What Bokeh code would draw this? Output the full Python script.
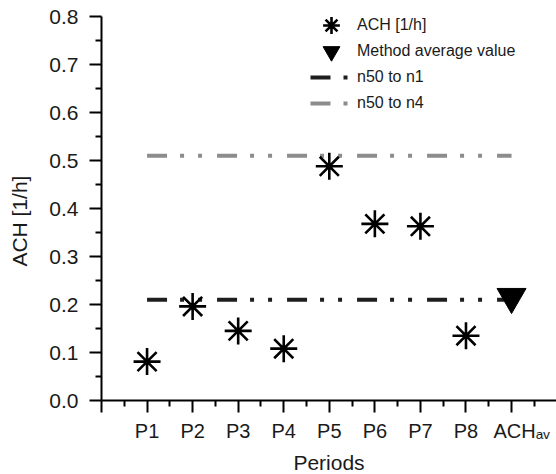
import numpy as np
from bokeh.plotting import figure
from bokeh.models import FixedTicker, Legend, LegendItem, Range1d
from bokeh.embed import file_html
from bokeh.resources import INLINE

# ---- data ----
periods = ["P1", "P2", "P3", "P4", "P5", "P6", "P7", "P8"]
ach_values = [0.081, 0.196, 0.145, 0.108, 0.488, 0.368, 0.363, 0.135]
avg_label = "ACH\u2090\u1d65"          # ACH with subscript "av"
avg_value = 0.216
n50_to_n1 = 0.21
n50_to_n4 = 0.51
y_ticks = [0.0, 0.1, 0.2, 0.3, 0.4, 0.5, 0.6, 0.7, 0.8]
y_tick_labels = ["0.0", "0.1", "0.2", "0.3", "0.4", "0.5", "0.6", "0.7", "0.8"]
legend_labels = ["ACH [1/h]", "Method average value", "n50 to n1", "n50 to n4"]
x_title = "Periods"
y_title = "ACH [1/h]"

FONT = "Liberation Sans"
TXT = "#1a1a1a"
FRAME_TOP = 16
FRAME_H = 384

x_pos = list(range(1, len(periods) + 1))
avg_x = len(periods) + 1
line_x = [x_pos[0], avg_x]

p = figure(frame_width=455, frame_height=FRAME_H, min_border_left=101, min_border_right=0,
           min_border_top=FRAME_TOP, min_border_bottom=74,
           output_backend="svg", toolbar_location=None,
           x_range=Range1d(0, 455 / 45.56), y_range=Range1d(0, 0.8))
p.outline_line_color = None
p.xgrid.visible = False
p.ygrid.visible = False
p.background_fill_color = "white"

DASH = "20 13 4 14 4 15"
r_n4 = p.line(line_x, [n50_to_n4] * 2, line_color="#8c8c8c", line_width=4, line_dash=DASH)
r_n1 = p.line(line_x, [n50_to_n1] * 2, line_color="#1e1e1e", line_width=4, line_dash=DASH)
r_ach = p.scatter(x_pos, ach_values, marker="asterisk", size=27, line_color="black", line_width=2.6)
r_avg = p.scatter([avg_x], [avg_value], marker="inverted_triangle", size=29,
                  fill_color="black", line_color="black")

# axes
for ax in (p.xaxis[0], p.yaxis[0]):
    ax.axis_line_width = 2
    ax.axis_line_color = "black"
    ax.major_tick_line_width = 2
    ax.minor_tick_line_width = 2
    ax.major_tick_line_color = "black"
    ax.minor_tick_line_color = "black"
    ax.major_tick_in = 0
    ax.minor_tick_in = 0
    ax.major_tick_out = 12
    ax.minor_tick_out = 6
    ax.major_label_text_font = FONT
    ax.major_label_text_font_size = "20px"
    ax.major_label_text_color = TXT
    ax.axis_label_text_font = FONT
    ax.axis_label_text_font_size = "21px"
    ax.axis_label_text_font_style = "normal"
    ax.axis_label_text_color = TXT

p.yaxis.ticker = FixedTicker(ticks=y_ticks, minor_ticks=[v + 0.05 for v in y_ticks[:-1]])
p.yaxis.major_label_overrides = {v: s for v, s in zip(y_ticks, y_tick_labels)}
p.yaxis.major_label_standoff = 11
p.yaxis.major_label_text_font_size = "21px"
# trailing em/thin space nudges the rotated title slightly downward, as in the reference
p.yaxis.axis_label = y_title + "\u2003\u2009"
p.yaxis.axis_label_standoff = 15

x_major = list(range(0, avg_x + 2))
p.xaxis.ticker = FixedTicker(ticks=x_major, minor_ticks=[v + 0.5 for v in x_major[:-1]])
overrides = {v: "" for v in x_major}
for xi, name in zip(x_pos, periods):
    overrides[xi] = name
# leading en spaces keep "ACH" roughly centred on its tick, the subscript trailing after it
overrides[avg_x] = "\u2002\u2002" + avg_label
p.xaxis.major_label_overrides = overrides
p.xaxis.major_label_standoff = 7
p.xaxis.axis_label = x_title
p.xaxis.axis_label_standoff = 6

# legend: one single-item legend per row so markers can be drawn larger
renderers = [r_ach, r_avg, r_n1, r_n4]
glyph_heights = [46, 46, 26, 26]
ROW0, ROW_STEP = 25, 26
for i, (lab, rend, gh) in enumerate(zip(legend_labels, renderers, glyph_heights)):
    center = ROW0 + ROW_STEP * i
    y_loc = FRAME_TOP + FRAME_H - center - gh / 2
    lg = Legend(items=[LegendItem(label=lab, renderers=[rend])],
                location=(209, y_loc), orientation="vertical",
                glyph_width=42, glyph_height=gh, label_height=gh, spacing=0, padding=0, margin=0,
                label_standoff=5, label_text_font=FONT, label_text_font_size="16px",
                label_text_color=TXT, background_fill_alpha=0, border_line_alpha=0)
    p.add_layout(lg)

open("out.html", "w").write(file_html(p, INLINE))
